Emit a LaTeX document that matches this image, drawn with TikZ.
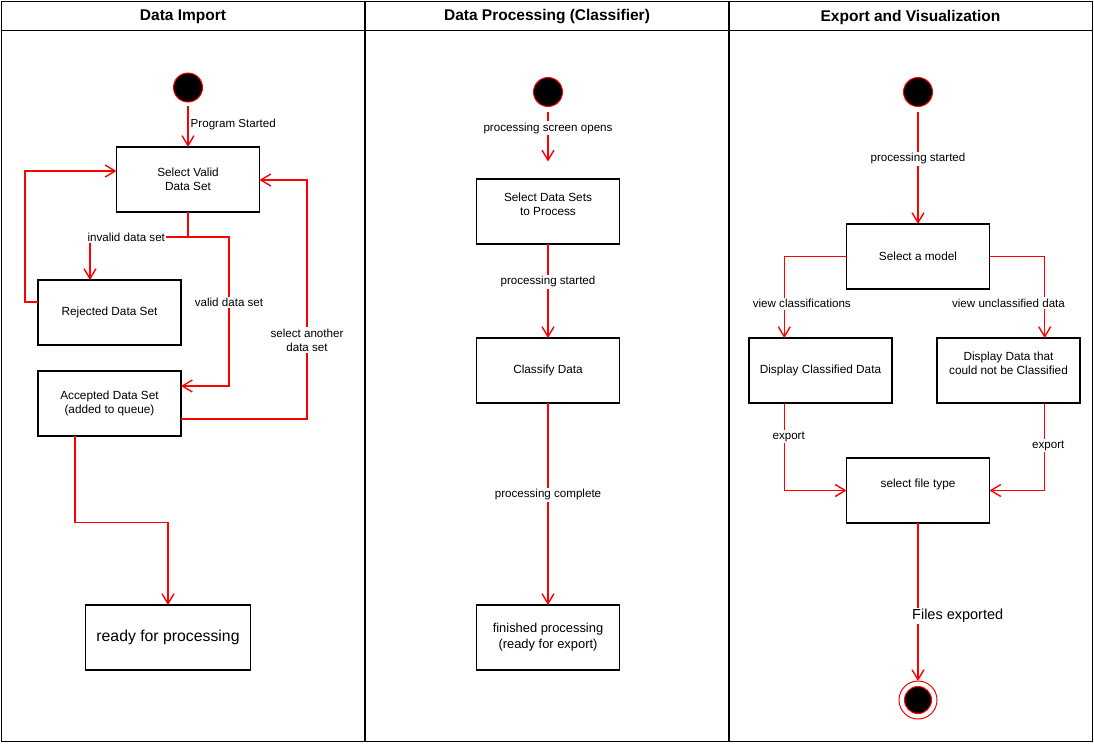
\documentclass[tikz,border=0pt]{standalone}
\usepackage{fontspec}
\setmainfont{Liberation Sans}
\usetikzlibrary{arrows.meta}
\begin{document}
\begin{tikzpicture}[x=1pt,y=-1pt,
  frame/.style={line width=1.3pt, draw=black},
  lanehead/.style={font=\fontsize{15.5}{18}\selectfont\bfseries, inner sep=0pt},
  statebox/.style={draw=black, line width=1.2pt, rectangle, minimum width=143pt,
    minimum height=65pt, inner sep=0pt, outer sep=0pt, align=center,
    font=\fontsize{11.8}{14}\selectfont},
  initial/.style={circle, fill=black, draw=red, line width=1pt, minimum size=29pt,
    inner sep=0pt, outer sep=0pt},
  final/.style={circle, fill=white, draw=red, line width=1pt, minimum size=38pt,
    inner sep=0pt, outer sep=0pt},
  flow/.style={draw=red, line width=1.4pt, -{Straight Barb[length=10pt,width=12pt]}},
  elabel/.style={fill=white, inner sep=1.5pt, align=center,
    font=\fontsize{11.6}{14}\selectfont},
]
\useasboundingbox (0,0) rectangle (1094,744);

% swimlane frame
\draw[frame] (1.5,1.5) rectangle (1092.3,741.7);
\draw[frame] (1.5,30.5) -- (1092.3,30.5);
\draw[frame] (365,1.5) -- (365,741.7);
\draw[frame] (729,1.5) -- (729,741.7);
\node[lanehead] (h1) at (183,17) {Data Import};
\node[lanehead] (h2) at (547,17) {Data Processing (Classifier)};
\node[lanehead] (h3) at (910.5,17) {Export and Visualization};

% ---- Data Import ----
\node[initial] (s1) at (188,87.5) {};
\node[statebox] (sv) at (188,179.5) {Select Valid\\Data Set};
\node[statebox] (rej) at (109.5,312.5) {Rejected Data Set};
\node[statebox] (acc) at (109.5,403.5) {Accepted Data Set\\(added to queue)};
\node[statebox, minimum width=165pt, font=\fontsize{15.8}{18}\selectfont]
  (ready) at (168,637.5) {ready for processing};

\draw[flow, shorten <=4pt] (s1.south) -- node[right, inner sep=2pt,
  font=\fontsize{11.6}{14}\selectfont] {Program Started} (sv.north);
\draw[flow] (sv.south) -- ++(0,25) -- node[elabel, pos=0.63] {invalid data set}
  (90,237) -- ([xshift=-19.5pt]rej.north);
\draw[flow] (sv.south) -- ++(0,25) -- (229,237) -- node[elabel, pos=0.44]
  {valid data set} (229,386) -- ([yshift=17.5pt]acc.east);
\draw[flow] ([yshift=10.5pt]rej.west) -- ++(-13,0) |- ([yshift=8.5pt]sv.west);
\draw[flow] ([yshift=-15.5pt]acc.east) -- (307,419) -- node[elabel, pos=0.33]
  {select another\\data set} (307,180) -- ([yshift=-0.5pt]sv.east);
\draw[flow] ([xshift=-34.5pt]acc.south) -- (75,522.7) -| (ready.north);

% ---- Data Processing ----
\node[initial] (s2) at (548,92) {};
\coordinate (c2) at (548,161.5);
\node[statebox] (sel) at (548,211.5) {Select Data Sets\\to Process\\\mbox{}};
\node[statebox] (cls) at (548,370.5) {Classify Data};
\node[statebox, font=\fontsize{12.9}{16}\selectfont] (fin) at (548,637.5)
  {finished processing\\(ready for export)};

\draw[flow] ([yshift=-5pt]s2.south) -- node[elabel, pos=0.33]
  {processing screen opens} (c2);
\draw[flow] (sel.south) -- node[elabel, pos=0.4] {processing started} (cls.north);
\draw[flow] (cls.south) -- node[elabel, pos=0.455] {processing complete} (fin.north);

% ---- Export and Visualization ----
\node[initial] (s3) at (918,92) {};
\node[statebox] (model) at (918,256.5) {Select a model};
\node[statebox] (disp1) at (820.5,370.5) {Display Classified Data};
\node[statebox] (disp2) at (1008.5,370.5) {Display Data that\\could not be Classified\\\mbox{}};
\node[statebox] (ftype) at (918,490.5) {select file type\\\mbox{}};
\node[final] (end) at (918,700) {};
\node[initial, minimum size=27pt] (endcore) at (end) {};

\draw[flow] ([yshift=-5pt]s3.south) -- node[elabel, pos=0.42]
  {processing started} (model.north);
\draw[flow] (model.west) -- (784.3,256.5) -- node[elabel, pos=0.58, xshift=17.5pt]
  {view classifications} ([xshift=-36.2pt]disp1.north);
\draw[flow] (model.east) -- (1044.7,256.5) -- node[elabel, pos=0.57, xshift=-36.2pt]
  {view unclassified data} ([xshift=36.2pt]disp2.north);
\draw[flow] ([xshift=-36.2pt]disp1.south) -- node[elabel, pos=0.385, xshift=4.4pt]
  {export} (784.3,490.5) -- (ftype.west);
\draw[flow] ([xshift=36.2pt]disp2.south) -- node[elabel, pos=0.49, xshift=3.6pt]
  {export} (1044.7,490.5) -- (ftype.east);
\draw[flow] (ftype.south) -- node[elabel, pos=0.59, xshift=39.7pt,
  font=\fontsize{14.5}{17}\selectfont] {Files exported} (end.north);
\end{tikzpicture}
\end{document}
